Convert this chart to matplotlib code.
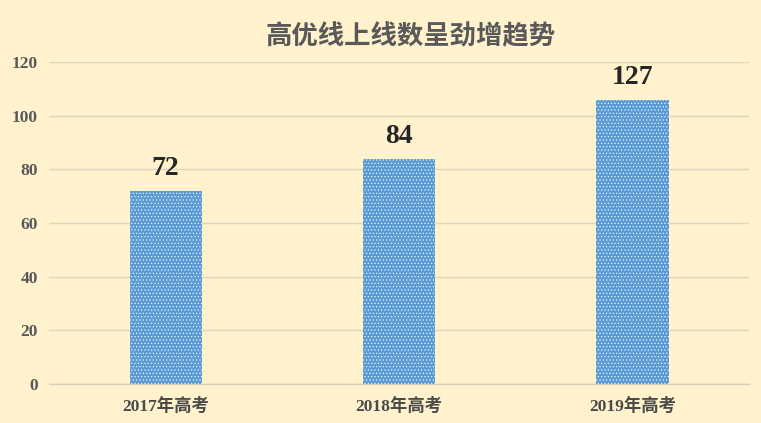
import matplotlib
matplotlib.use("Agg")
import matplotlib.pyplot as plt

categories = ["2017年高考", "2018年高考", "2019年高考"]
bar_values = [72, 84, 106]
value_labels = ["72", "84", "127"]
yticks = [0, 20, 40, 60, 80, 100, 120]
title = "高优线上线数呈劲增趋势"

bg = "#FFF2CC"
plt.rcParams['hatch.linewidth'] = 0.45
fig = plt.figure(figsize=(7.61, 4.23), dpi=100, facecolor=bg)
ax = fig.add_axes([0.0644, 0.0922, 0.920, 0.761], facecolor=bg)

x = list(range(len(categories)))
bars = ax.bar(x, bar_values, width=0.31, color="#5B9BD5", edgecolor="#F4F8FC",
              hatch=".....", linewidth=0, zorder=3)

ax.set_xlim(-0.5, 2.5)
ax.set_ylim(0, 120)
ax.set_yticks(yticks)
ax.set_yticklabels([str(t) for t in yticks], family="Liberation Serif",
                   fontweight="bold", fontsize=12.5, color="#595959")
ax.set_xticks(x)
ax.set_xticklabels(categories, family=["Liberation Serif", "Noto Sans CJK SC"],
                   fontweight="bold", fontsize=12.5, color="#4A4A4A")
ax.tick_params(axis="both", length=0)
ax.tick_params(axis="y", pad=8)
ax.tick_params(axis="x", pad=10)
ax.grid(axis="y", color="#E0D6BC", linewidth=1, zorder=0)
for s in ["top", "right", "left"]:
    ax.spines[s].set_visible(False)
ax.spines["bottom"].set_color("#D9D0B8")
ax.spines["bottom"].set_linewidth(1)

for xi, v, lab in zip(x, bar_values, value_labels):
    ax.annotate(lab, (xi, v), xytext=(0, 7), textcoords="offset points",
                ha="center", va="bottom", family="Liberation Serif",
                fontweight="bold", fontsize=20, color="#262626")

fig.text(0.539, 0.913, title, ha="center", va="center",
         family=["Noto Sans CJK SC"], fontweight="bold", fontsize=19,
         color="#595959")

fig.savefig("out.png", dpi=100, facecolor=bg)
